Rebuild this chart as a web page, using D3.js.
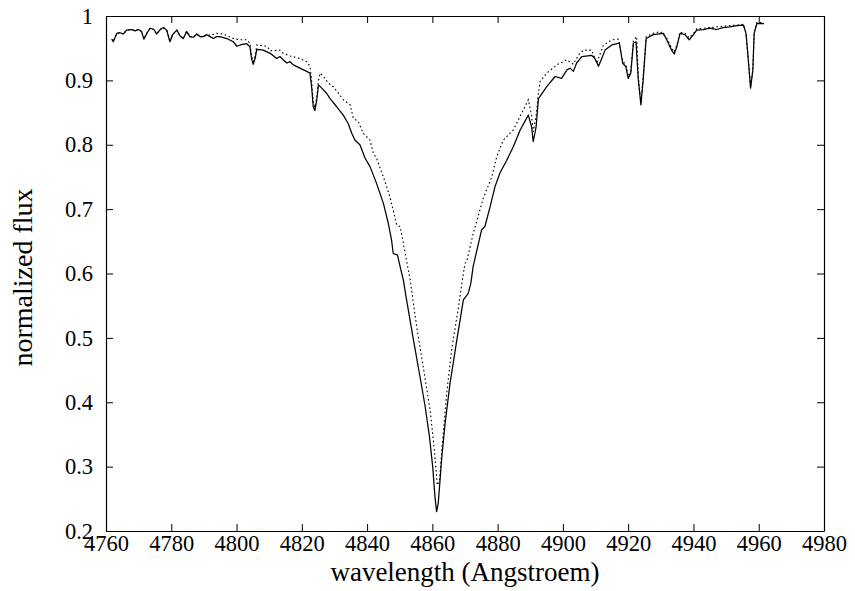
<!DOCTYPE html>
<html>
<head>
<meta charset="utf-8">
<script src="https://cdn.jsdelivr.net/npm/d3@7"></script>
<style>
  html, body { margin: 0; padding: 0; background: #fff; }
  svg { display: block; font-family: "Liberation Serif", "Times New Roman", serif; }
</style>
</head>
<body>
<svg id="chart" width="855" height="591"></svg>
<script>
const xTicks = [4760, 4780, 4800, 4820, 4840, 4860, 4880, 4900, 4920, 4940, 4960, 4980];
const yTicks = [0.2, 0.3, 0.4, 0.5, 0.6, 0.7, 0.8, 0.9, 1];

const obsWave = [4761.8,4762.2,4763.3,4764.3,4765.3,4766.3,4767.9,4768.9,4769.9,4770.9,4771.6,4772.5,4773.5,4774.7,4775.5,4776.6,4777.6,4778.6,4779.6,4780.4,4781.7,4782.7,4783.7,4784.7,4785.7,4786.8,4787.8,4788.8,4789.8,4790.9,4791.9,4792.9,4793.9,4794.9,4797.0,4799.0,4800.1,4801.1,4803.1,4804.1,4804.6,4805.1,4805.7,4806.2,4808.2,4810.3,4812.3,4813.3,4814.3,4815.4,4816.4,4817.4,4819.4,4821.5,4822.5,4823.0,4823.5,4824.0,4824.6,4825.1,4826.1,4827.6,4828.6,4830.7,4832.7,4834.2,4835.3,4836.3,4837.8,4839.4,4840.9,4842.9,4845.0,4846.5,4847.5,4848.0,4849.3,4850.1,4851.1,4852.1,4854.2,4856.2,4857.8,4859.1,4860.1,4860.8,4861.3,4861.8,4862.9,4863.9,4865.4,4867.5,4869.5,4871.0,4871.8,4872.5,4875.1,4876.1,4877.7,4879.2,4880.7,4882.8,4884.8,4886.9,4889.4,4890.4,4890.9,4891.8,4892.5,4893.0,4895.0,4897.6,4899.6,4901.2,4902.2,4903.2,4904.2,4905.8,4908.8,4909.8,4910.9,4911.9,4912.9,4915.0,4917.3,4918.3,4919.3,4920.0,4920.8,4921.6,4922.4,4923.1,4923.9,4924.6,4925.5,4927.7,4930.8,4931.8,4933.3,4934.1,4934.9,4935.9,4937.4,4938.7,4940.0,4941.0,4943.0,4945.1,4947.1,4949.1,4951.2,4953.3,4955.3,4956.1,4956.8,4957.5,4958.2,4958.6,4959.4,4961.6];
const obsFlux = [0.964,0.960,0.973,0.974,0.972,0.978,0.979,0.977,0.979,0.976,0.964,0.973,0.981,0.979,0.972,0.979,0.982,0.978,0.960,0.971,0.978,0.969,0.965,0.976,0.968,0.967,0.972,0.968,0.968,0.971,0.968,0.965,0.968,0.968,0.965,0.960,0.953,0.955,0.957,0.952,0.934,0.925,0.934,0.948,0.947,0.942,0.934,0.937,0.932,0.927,0.929,0.924,0.919,0.914,0.911,0.890,0.859,0.853,0.870,0.893,0.888,0.880,0.872,0.859,0.846,0.833,0.818,0.807,0.800,0.779,0.766,0.740,0.709,0.678,0.652,0.631,0.629,0.611,0.590,0.559,0.497,0.440,0.393,0.347,0.300,0.253,0.230,0.243,0.315,0.367,0.429,0.497,0.559,0.569,0.585,0.611,0.668,0.673,0.704,0.735,0.756,0.776,0.797,0.823,0.846,0.828,0.805,0.828,0.872,0.875,0.890,0.906,0.903,0.916,0.919,0.914,0.927,0.937,0.939,0.934,0.922,0.934,0.947,0.955,0.958,0.927,0.921,0.903,0.911,0.958,0.960,0.901,0.862,0.901,0.965,0.971,0.973,0.963,0.947,0.941,0.952,0.973,0.971,0.963,0.971,0.978,0.979,0.981,0.979,0.982,0.983,0.985,0.986,0.973,0.932,0.888,0.916,0.973,0.988,0.988];

const modelWave = [4761.8,4762.2,4763.3,4764.3,4765.3,4766.3,4767.9,4768.9,4769.9,4770.9,4771.6,4772.5,4773.5,4774.7,4775.5,4776.6,4777.6,4778.6,4779.6,4780.4,4781.7,4782.7,4783.7,4784.7,4785.7,4786.8,4787.8,4788.8,4789.8,4790.9,4791.9,4793.9,4795.9,4799.0,4801.1,4803.1,4804.1,4804.6,4805.1,4805.7,4806.2,4809.3,4810.3,4813.3,4814.3,4816.4,4819.4,4821.5,4822.5,4823.0,4823.5,4824.0,4824.6,4825.1,4825.6,4826.6,4828.1,4829.7,4832.7,4834.8,4835.8,4837.3,4838.8,4840.9,4841.9,4842.9,4845.0,4847.0,4849.1,4850.1,4851.1,4853.2,4855.2,4857.2,4859.3,4860.6,4861.3,4861.5,4862.2,4862.9,4864.4,4865.9,4868.0,4869.5,4870.0,4870.5,4872.5,4875.6,4878.2,4879.7,4881.7,4884.8,4886.9,4889.4,4890.4,4890.9,4891.8,4892.5,4893.0,4895.0,4898.1,4901.2,4903.2,4904.7,4906.3,4908.8,4910.4,4912.4,4915.0,4917.0,4918.3,4919.3,4920.0,4920.8,4921.6,4922.6,4923.1,4923.9,4924.6,4925.5,4927.7,4929.8,4931.8,4933.3,4934.1,4934.9,4935.9,4937.4,4938.7,4940.0,4941.0,4945.1,4949.1,4953.3,4955.3,4956.1,4956.8,4957.5,4958.2,4958.6,4959.4,4961.6];
const modelFlux = [0.964,0.960,0.973,0.974,0.972,0.978,0.979,0.977,0.979,0.976,0.964,0.973,0.981,0.979,0.972,0.979,0.982,0.978,0.960,0.971,0.978,0.969,0.965,0.976,0.968,0.967,0.972,0.968,0.968,0.971,0.970,0.973,0.972,0.965,0.963,0.963,0.958,0.938,0.929,0.938,0.955,0.953,0.946,0.947,0.942,0.938,0.934,0.929,0.922,0.900,0.866,0.858,0.875,0.900,0.911,0.906,0.896,0.890,0.870,0.862,0.841,0.836,0.818,0.807,0.787,0.779,0.750,0.719,0.675,0.673,0.647,0.590,0.517,0.455,0.388,0.326,0.284,0.271,0.279,0.326,0.414,0.481,0.548,0.600,0.616,0.618,0.662,0.717,0.750,0.781,0.807,0.823,0.844,0.870,0.845,0.820,0.845,0.880,0.898,0.911,0.924,0.932,0.925,0.939,0.947,0.947,0.927,0.955,0.963,0.964,0.930,0.924,0.906,0.914,0.962,0.968,0.905,0.865,0.905,0.968,0.973,0.976,0.966,0.950,0.944,0.955,0.975,0.973,0.966,0.973,0.980,0.982,0.984,0.986,0.987,0.974,0.933,0.889,0.917,0.974,0.990,0.990];

const svg = d3.select("#chart");
const plotLeft = 106, plotRight = 824, plotTop = 16, plotBottom = 531;

const x = d3.scaleLinear().domain([4760, 4980]).range([plotLeft, plotRight]);
const y = d3.scaleLinear().domain([0.2, 1]).range([plotBottom, plotTop]);

const fmt = d => String(d);

const gB = svg.append("g").attr("transform", `translate(0,${plotBottom})`)
  .call(d3.axisBottom(x).tickValues(xTicks).tickFormat(fmt).tickSizeInner(-7).tickSizeOuter(0).tickPadding(4));
const gL = svg.append("g").attr("transform", `translate(${plotLeft},0)`)
  .call(d3.axisLeft(y).tickValues(yTicks).tickFormat(fmt).tickSizeInner(-7).tickSizeOuter(0).tickPadding(13));
const gT = svg.append("g").attr("transform", `translate(0,${plotTop})`)
  .call(d3.axisTop(x).tickValues(xTicks).tickFormat("").tickSizeInner(-7).tickSizeOuter(0));
const gR = svg.append("g").attr("transform", `translate(${plotRight},0)`)
  .call(d3.axisRight(y).tickValues(yTicks).tickFormat("").tickSizeInner(-7).tickSizeOuter(0));

[gB, gL, gT, gR].forEach(g => {
  g.attr("font-family", '"Liberation Serif", "Times New Roman", serif');
  g.selectAll("path.domain").attr("stroke", "#000").attr("stroke-width", 1.2);
  g.selectAll(".tick line").attr("stroke", "#000").attr("stroke-width", 1);
  g.selectAll(".tick text").attr("fill", "#000").style("font-size", "22.5px")
    .style("font-family", '"Liberation Serif", "Times New Roman", serif');
});

const line = d3.line().x(d => x(d[0])).y(d => y(d[1]));
const obs = obsWave.map((w, i) => [w, obsFlux[i]]);
const model = modelWave.map((w, i) => [w, modelFlux[i]]);

svg.append("path").datum(model).attr("d", line)
  .attr("fill", "none").attr("stroke", "#000").attr("stroke-width", 1.1)
  .attr("stroke-dasharray", "1.6,2.6");
svg.append("path").datum(obs).attr("d", line)
  .attr("fill", "none").attr("stroke", "#000").attr("stroke-width", 1.25)
  .attr("stroke-linejoin", "round");

svg.append("text").attr("x", (plotLeft + plotRight) / 2).attr("y", 580.5)
  .attr("text-anchor", "middle").style("font-size", "27px").attr("fill", "#000")
  .text("wavelength (Angstroem)");
svg.append("text").attr("transform", `translate(32,${(plotTop + plotBottom) / 2 + 4}) rotate(-90)`)
  .attr("text-anchor", "middle").style("font-size", "28px").attr("fill", "#000")
  .text("normalized flux");
</script>
</body>
</html>
